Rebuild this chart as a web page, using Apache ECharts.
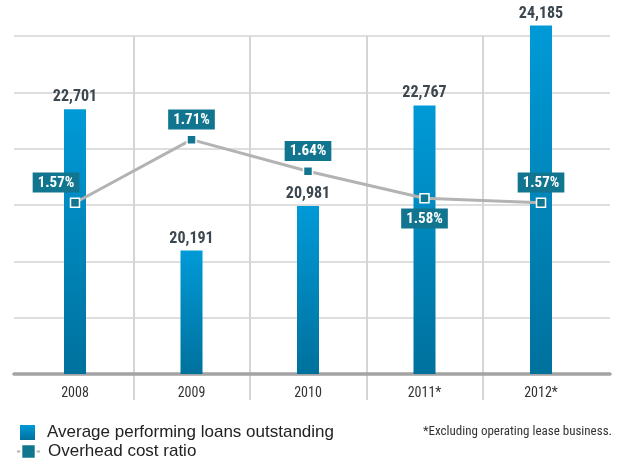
<!DOCTYPE html>
<html>
<head>
<meta charset="utf-8">
<script src="https://cdn.jsdelivr.net/npm/echarts@6/dist/echarts.min.js"></script>
<style>
html,body{margin:0;padding:0;background:#fff;}
#chart{width:627px;height:463px;}
</style>
</head>
<body>
<div id="chart"></div>
<script>
var categories = ['2008', '2009', '2010', '2011*', '2012*'];
var loans = [22701, 20191, 20981, 22767, 24185];
var ratio = [1.57, 1.71, 1.64, 1.58, 1.57];
var loanTicks = [18000, 19000, 20000, 21000, 22000, 23000, 24000];
var ratioLabelPos = ['topleft', 'top', 'top', 'bottom', 'top'];

var COND = '"Roboto Condensed", "DejaVu Sans Condensed", sans-serif';
var TEAL = '#12758f';

var chart = echarts.init(document.getElementById('chart'), null, {renderer: 'canvas'});

var ratioData = ratio.map(function (v, i) {
  var p = ratioLabelPos[i];
  var lab = {};
  if (p === 'topleft') { lab = {position: 'top', offset: [-19, 0]}; }
  else { lab = {position: p}; }
  return {value: v, label: lab};
});

var option = {
  animation: false,
  backgroundColor: '#ffffff',
  title: {
    text: '*Excluding operating lease business.',
    right: 15, top: 425, padding: 0,
    textStyle: {fontFamily: COND, fontSize: 13, fontWeight: 'normal', color: '#333'}
  },
  legend: [
    {
      data: ['Average performing loans outstanding'],
      left: 20, top: 424, padding: 0,
      itemWidth: 15, itemHeight: 15, icon: 'rect',
      textStyle: {fontFamily: '"Liberation Sans", Arial, sans-serif', fontSize: 17, color: '#222', padding: [2, 0, 0, 7]}
    },
    {
      data: ['Overhead cost ratio'],
      left: 16, top: 443, padding: 0,
      itemWidth: 23, itemHeight: 18,
      textStyle: {fontFamily: '"Liberation Sans", Arial, sans-serif', fontSize: 17, color: '#222', padding: [2, 0, 0, 3]}
    }
  ],
  grid: [
    {left: 16.75, right: 27.75, top: 24.73, bottom: 89},
    {left: 14, right: 17, top: 36, bottom: 89},
    {left: 16.75, right: 27.75, top: 36, bottom: 63}
  ],
  xAxis: [
    {
      gridIndex: 0, type: 'category', data: categories, boundaryGap: true,
      axisLine: {show: false}, axisTick: {show: false}, splitLine: {show: false},
      axisLabel: {margin: 12, fontFamily: COND, fontSize: 14, color: '#333', interval: 0}
    },
    {
      gridIndex: 1, type: 'value', min: 0, max: 1,
      axisLine: {show: true, lineStyle: {color: '#a3a3a3', width: 3.5}},
      axisTick: {show: false}, axisLabel: {show: false}, splitLine: {show: false}
    },
    {
      gridIndex: 2, type: 'category', data: categories, boundaryGap: true,
      axisLine: {show: false}, axisTick: {show: false}, axisLabel: {show: false},
      splitLine: {show: true, interval: 0, showMinLine: false, showMaxLine: false,
        lineStyle: {color: '#d5d5d5', width: 2}}
    }
  ],
  yAxis: [
    {gridIndex: 0, type: 'value', min: 18000, max: 24200, show: false},
    {gridIndex: 0, type: 'value', min: 1.19, max: 1.965, show: false},
    {
      gridIndex: 1, type: 'value', min: loanTicks[0], max: loanTicks[loanTicks.length - 1], interval: 1000,
      axisLine: {show: false}, axisTick: {show: false}, axisLabel: {show: false},
      splitLine: {show: true, lineStyle: {color: '#d3d3d3', width: 1.5}}
    },
    {gridIndex: 2, type: 'value', show: false}
  ],
  series: [
    {
      name: 'Average performing loans outstanding',
      type: 'bar', xAxisIndex: 0, yAxisIndex: 0,
      data: loans, barWidth: 22, clip: true,
      itemStyle: {
        color: new echarts.graphic.LinearGradient(0, 0, 0, 1, [
          {offset: 0, color: '#009ad7'},
          {offset: 1, color: '#00719d'}
        ])
      },
      label: {
        show: true, position: 'top', distance: 4,
        fontFamily: COND, fontSize: 16, fontWeight: 'bold', color: '#3b464e',
        formatter: function (p) { return p.value.toLocaleString('en-US'); }
      }
    },
    {
      name: 'Overhead cost ratio',
      type: 'line', xAxisIndex: 0, yAxisIndex: 1,
      data: ratioData, clip: false,
      symbol: 'rect', symbolSize: 9,
      lineStyle: {color: '#b3b3b3', width: 3},
      itemStyle: {color: TEAL, borderColor: '#ffffff', borderWidth: 1.5},
      label: {
        show: true, distance: 5,
        fontFamily: COND, fontSize: 15, fontWeight: 'bold', color: '#ffffff',
        backgroundColor: TEAL, padding: [3, 5, 2, 5],
        formatter: function (p) { return p.value.toFixed(2) + '%'; }
      },
      z: 5
    }
  ]
};
chart.setOption(option);
</script>
</body>
</html>
